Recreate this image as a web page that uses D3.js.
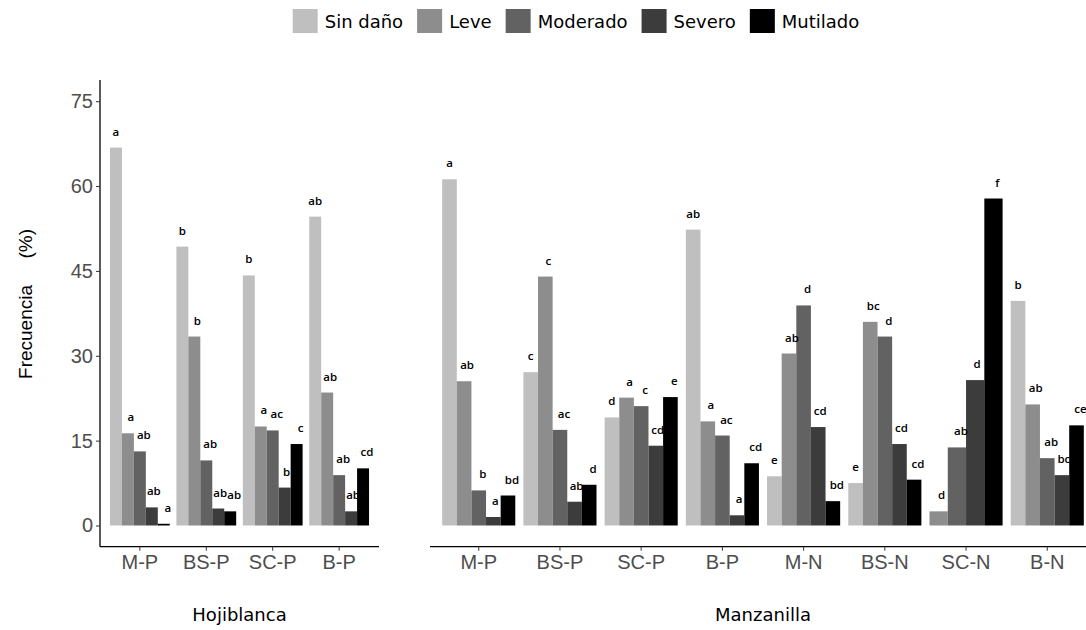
<!DOCTYPE html>
<html>
<head>
<meta charset="utf-8">
<script src="https://cdn.jsdelivr.net/npm/d3@7"></script>
<style>
  body { margin: 0; background: #fff; }
  svg { display: block; }
</style>
</head>
<body>
<div id="chart"></div>
<script>
var svgWidth = 1086;
var svgHeight = 630;

// damage categories (legend order) and fills
var series = ["Sin daño", "Leve", "Moderado", "Severo", "Mutilado"];
var fills = ["#bfbfbf", "#8d8d8d", "#626262", "#3c3c3c", "#000000"];

// Hojiblanca panel
var groupsH = ["M-P", "BS-P", "SC-P", "B-P"];
var valuesH = [
  [66.8, 16.3, 13.1, 3.2, 0.3],
  [49.3, 33.4, 11.5, 3.0, 2.5],
  [44.2, 17.5, 16.8, 6.7, 14.4],
  [54.6, 23.5, 8.9, 2.5, 10.1]
];
var lettersH = [
  ["a", "a", "ab", "ab", "a"],
  ["b", "b", "ab", "ab", "ab"],
  ["b", "a", "ac", "b", "c"],
  ["ab", "ab", "ab", "ab", "cd"]
];

// Manzanilla panel (null = category absent)
var groupsM = ["M-P", "BS-P", "SC-P", "B-P", "M-N", "BS-N", "SC-N", "B-N"];
var valuesM = [
  [61.2, 25.5, 6.2, 1.5, 5.3],
  [27.1, 44.0, 16.9, 4.2, 7.2],
  [19.1, 22.6, 21.1, 14.1, 22.7],
  [52.3, 18.4, 15.9, 1.8, 11.0],
  [8.7, 30.4, 38.9, 17.4, 4.3],
  [7.5, 36.0, 33.4, 14.4, 8.1],
  [null, 2.5, 13.8, 25.7, 57.8],
  [39.7, 21.4, 11.9, 8.9, 17.7]
];
var lettersM = [
  ["a", "ab", "b", "a", "bd"],
  ["c", "c", "ac", "ab", "d"],
  ["d", "a", "c", "cd", "e"],
  ["ab", "a", "ac", "a", "cd"],
  ["e", "ab", "d", "cd", "bd"],
  ["e", "bc", "d", "cd", "cd"],
  [null, "d", "ab", "d", "f"],
  ["b", "ab", "ab", "bc", "ce"]
];

var yTicks = [0, 15, 30, 45, 60, 75];

var svg = d3.select("#chart")
  .append("svg")
  .attr("width", svgWidth)
  .attr("height", svgHeight);

var yScale = d3.scaleLinear()
  .domain([-3.75, 78.75])
  .range([546.7, 80]);

var labelNudge = [0, 3, 4, 2, 4];

function drawPanel(groups, values, letters, x0, x1, title, withYAxis) {
  var xScale = d3.scaleBand()
    .domain(groups)
    .range([x0, x1])
    .paddingInner(0.1)
    .paddingOuter(0.15);

  var g = svg.append("g");

  groups.forEach(function(grp, gi) {
    var present = series.filter(function(s, si) { return values[gi][si] != null; });
    var sub = d3.scaleBand().domain(present).range([0, xScale.bandwidth()]);
    var rows = series.map(function(s, si) {
      return { s: s, i: si, v: values[gi][si], lab: letters[gi][si] };
    }).filter(function(d) { return d.v != null; });

    var gg = g.append("g")
      .attr("transform", "translate(" + xScale(grp) + ",0)");

    gg.selectAll("rect").data(rows).enter()
      .append("rect")
      .attr("x", d => sub(d.s))
      .attr("y", d => yScale(d.v))
      .attr("width", sub.bandwidth())
      .attr("height", d => yScale(0) - yScale(d.v))
      .attr("fill", d => fills[d.i]);

    gg.selectAll("text").data(rows).enter()
      .append("text")
      .attr("x", d => sub(d.s) + sub.bandwidth() / 2 + labelNudge[d.i])
      .attr("y", d => yScale(d.v) - 12)
      .attr("text-anchor", "middle")
      .attr("font-family", "'Open Sans', sans-serif")
      .attr("font-weight", 600)
      .attr("font-size", 11.5)
      .attr("fill", "#000")
      .text(d => d.lab);
  });

  // x axis
  var xAxis = g.append("g")
    .attr("transform", "translate(0,546.7)")
    .call(d3.axisBottom(xScale).tickSize(4).tickPadding(4));
  xAxis.select(".domain").attr("d", "M" + x0 + ",0H" + x1).attr("stroke", "#000").attr("stroke-width", 1.3);
  xAxis.selectAll(".tick line").attr("stroke", "#333");
  xAxis.selectAll(".tick text")
    .attr("font-family", "'Liberation Sans', Arial, sans-serif")
    .attr("font-size", 20)
    .attr("fill", "#4d4d4d");

  if (withYAxis) {
    var yAxis = g.append("g")
      .attr("transform", "translate(" + x0 + ",0)")
      .call(d3.axisLeft(yScale).tickValues(yTicks).tickSize(4).tickPadding(3));
    yAxis.select(".domain").attr("d", "M0,80V546.7").attr("stroke", "#000").attr("stroke-width", 1.3);
    yAxis.selectAll(".tick line").attr("stroke", "#333");
    yAxis.selectAll(".tick text")
      .attr("font-family", "'Liberation Sans', Arial, sans-serif")
      .attr("font-size", 20)
      .attr("fill", "#4d4d4d");
  }

  svg.append("text")
    .attr("x", (x0 + Math.min(x1, svgWidth + 10)) / 2)
    .attr("y", 621)
    .attr("text-anchor", "middle")
    .attr("font-family", "'DejaVu Sans', sans-serif")
    .attr("font-size", 18)
    .attr("fill", "#000")
    .text(title);
}

drawPanel(groupsH, valuesH, lettersH, 100, 379, "Hojiblanca", true);
drawPanel(groupsM, valuesM, lettersM, 430, 1096, "Manzanilla", false);

// y axis title
svg.append("text")
  .attr("transform", "translate(32,304) rotate(-90)")
  .attr("text-anchor", "middle")
  .attr("xml:space", "preserve")
  .style("white-space", "pre")
  .attr("font-family", "'Liberation Sans', Arial, sans-serif")
  .attr("font-size", 19)
  .attr("fill", "#000")
  .text("Frecuencia     (%)");

// legend on top
var legend = svg.append("g");
var lx = 0;
series.forEach(function(s, i) {
  var item = legend.append("g").attr("transform", "translate(" + lx + ",0)");
  item.append("rect")
    .attr("x", 0).attr("y", 9)
    .attr("width", 25).attr("height", 24)
    .attr("fill", fills[i]);
  var t = item.append("text")
    .attr("x", 32).attr("y", 28)
    .attr("font-family", "'DejaVu Sans', sans-serif")
    .attr("font-size", 18)
    .attr("fill", "#000")
    .text(s);
  lx += 32 + t.node().getComputedTextLength() + 14;
});
lx -= 14;
legend.attr("transform", "translate(" + (576 - lx / 2) + ",0)");
</script>
</body>
</html>
